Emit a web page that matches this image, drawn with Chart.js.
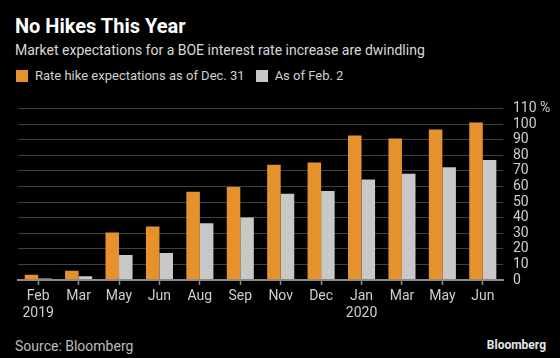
<!DOCTYPE html>
<html>
<head>
<meta charset="utf-8">
<script src="https://cdn.jsdelivr.net/npm/chart.js@4/dist/chart.umd.min.js"></script>
<style>
  html, body { margin: 0; padding: 0; background: #000; }
  #wrap { position: relative; width: 560px; height: 358px; background: #000; overflow: hidden; font-family: Roboto, "Noto Sans", sans-serif; }
  .txt { position: absolute; white-space: nowrap; line-height: 1; }
  #title { left: 15px; top: 16px; font-size: 20px; font-weight: bold; color: #fff; }
  #subtitle { left: 15px; top: 43px; font-size: 14px; color: #d9d9d9; }
  #legend { left: 16px; top: 69px; font-size: 13px; color: #d0d0d0; display: flex; align-items: center; }
  #legend .box { width: 12px; height: 12px; margin-right: 7px; }
  #legend .lab { margin-right: 11px; }
  #source { left: 15px; top: 339px; font-size: 14px; color: #bdbdbd; }
  #logo { right: 14px; top: 339px; font-size: 12px; font-weight: bold; color: #e6e6e6; }
  #chartBox { position: absolute; left: 0; top: 90px; width: 560px; height: 240px; }
</style>
</head>
<body>
<div id="wrap">
  <div id="title" class="txt">No Hikes This Year</div>
  <div id="subtitle" class="txt">Market expectations for a BOE interest rate increase are dwindling</div>
  <div id="legend" class="txt"></div>
  <div id="chartBox"><canvas id="chart"></canvas></div>
  <div id="source" class="txt">Source: Bloomberg</div>
  <div id="logo" class="txt">Bloomberg</div>
</div>
<script>
// categories (month + year on the second line)
const months = ["Feb", "Mar", "May", "Jun", "Aug", "Sep", "Nov", "Dec", "Jan", "Mar", "May", "Jun"];
const years = ["2019", "", "", "", "", "", "", "", "2020", "", "", ""];

// series values, percent
const dec31 = [3.3, 6, 30.5, 34.3, 56.5, 59.6, 73.8, 75.4, 92.7, 90.7, 96.5, 101];
const feb2 = [0.9, 2.4, 16, 17.3, 36.4, 40, 55.3, 57, 64.4, 68.1, 72.2, 77];

const seriesNames = ["Rate hike expectations as of Dec. 31", "As of Feb. 2"];
const seriesColors = ["#E5912C", "#C8C8C8"];

// y tick labels
const yMax = 110;
const yStep = 10;

function buildLegend() {
  const el = document.getElementById("legend");
  el.innerHTML = "";
  seriesNames.map((name, i) => {
    el.innerHTML += `<span class="box" style="background:${seriesColors[i]}"></span><span class="lab">${name}</span>`;
  });
}

function renderChart() {
  const ctx = document.getElementById("chart").getContext("2d");
  const labels = months.map((m, i) => (years[i] ? [m, years[i]] : m));

  new Chart(ctx, {
    type: "bar",
    data: {
      labels,
      datasets: [
        { label: seriesNames[0], data: dec31, backgroundColor: seriesColors[0] },
        { label: seriesNames[1], data: feb2, backgroundColor: seriesColors[1] },
      ],
    },
    options: {
      responsive: true,
      maintainAspectRatio: false,
      animation: false,
      categoryPercentage: 0.67,
      barPercentage: 1.0,
      layout: { padding: { top: 13, left: 18, right: 0, bottom: 0 } },
      plugins: { legend: { display: false }, tooltip: { enabled: false } },
      scales: {
        x: {
          grid: { display: true, drawOnChartArea: false, drawTicks: true, offset: false, tickLength: 5, color: "#8a8a8a", tickWidth: 1.5 },
          border: { display: true, color: "#8a8a8a", width: 2, z: 1 },
          ticks: {
            color: "#cfcfcf",
            font: { family: "Roboto", size: 14 },
            padding: 3,
            maxRotation: 0,
            autoSkip: false,
          },
          afterFit: (scale) => { scale.height = 50; },
        },
        y: {
          position: "right",
          min: 0,
          max: yMax,
          // dotted lines don't survive the screenshot, a dim solid line reads the same
          grid: { display: true, drawOnChartArea: true, color: "#404040", lineWidth: 1, drawTicks: false },
          border: { display: false },
          ticks: {
            stepSize: yStep,
            autoSkip: false,
            color: "#cfcfcf",
            font: { family: "Roboto", size: 14 },
            padding: 10,
            callback: (v) => (v === yMax ? v + " %" : v),
          },
          afterFit: (scale) => { scale.width = 57; },
        },
      },
    },
  });
}

buildLegend();
renderChart();
</script>
</body>
</html>
